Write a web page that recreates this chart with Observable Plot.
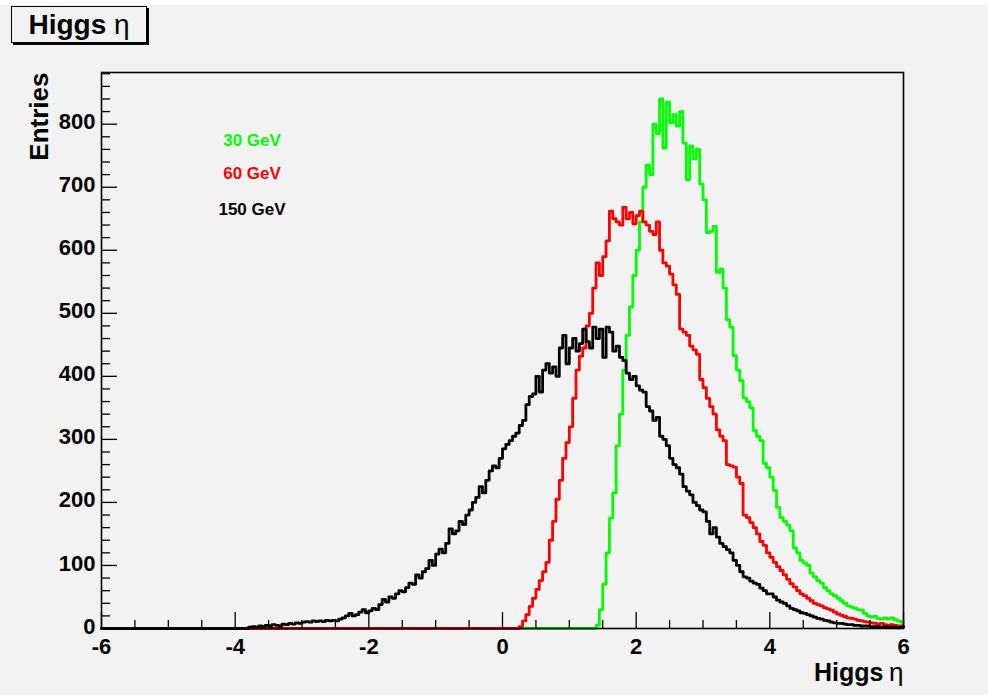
<!DOCTYPE html>
<html>
<head>
<meta charset="utf-8">
<script src="https://cdn.jsdelivr.net/npm/d3@7"></script>
<script src="https://cdn.jsdelivr.net/npm/@observablehq/plot@0.6"></script>
<style>
  html, body { margin: 0; padding: 0; background: #ffffff; }
  #wrap { position: relative; margin-top: 5px; width: 988px; height: 690px; background: #f2f2f2; overflow: hidden;
          font-family: "Liberation Sans", Arial, Helvetica, sans-serif; }
  #title { position: absolute; left: 11px; top: 1px; width: 136px; height: 37px; box-sizing: border-box;
           border: 1px solid #000; box-shadow: 2px 2px 0 #000; background: #f2f2f2;
           font-size: 28px; line-height: 35px; text-align: center; color: #000; white-space: nowrap; }
  #title b { font-weight: bold; }
  .leg { position: absolute; transform: translate(-50%, -50%); font-size: 17px; font-weight: bold; white-space: nowrap; }
  #chart { position: absolute; left: 0; top: 0; }
</style>
</head>
<body>
<div id="wrap">
  <div id="chart"></div>
  <div id="title"><b>Higgs</b> η</div>
</div>
<script>
// ---- data ----
const xMin = -6, xMax = 6, binWidth = 0.05;
const seriesNames = ["30 GeV", "60 GeV", "150 GeV"];
const seriesColors = ["#00ff00", "#ff0000", "#000000"];
const seriesStart = [1.40, 0.25, -3.80];   // eta of first non-empty bin

const green30 = [
  5, 30, 70, 120, 175, 215, 290, 340, 410, 465, 510, 560,
  600, 645, 700, 735, 720, 800, 785, 840, 762, 835, 802, 815, 797, 820, 770, 712, 765, 745, 760, 705,
  680, 628, 630, 638, 565, 570, 540, 490, 478, 433, 410, 393, 366, 360, 350, 314, 305, 298, 262, 255,
  240, 219, 192, 176, 170, 164, 155, 128, 120, 108, 104, 100, 88, 82, 76, 72, 65, 60, 55, 52,
  48, 44, 40, 36, 34, 32, 30, 29, 24, 20, 18, 19, 16, 15, 17, 15, 17, 14, 12, 10
];
const red60 = [
  3, 12, 22, 35, 48, 62, 76, 90, 105, 140,
  170, 205, 235, 270, 295, 320, 365, 410, 432, 445,
  480, 500, 540, 580, 560, 590, 615, 662, 650, 645,
  640, 668, 650, 660, 642, 655, 662, 645, 640, 630,
  625, 645, 600, 580, 575, 562, 545, 530, 475, 470,
  465, 448, 442, 435, 395, 382, 365, 352, 340, 315,
  305, 298, 260, 258, 256, 240, 230, 180, 176, 168,
  160, 150, 138, 132, 120, 113, 105, 98, 92, 85,
  78, 71, 66, 60, 55, 52, 48, 44, 40, 38,
  36, 33, 31, 29, 26, 23, 21, 19, 17, 16,
  15, 13, 12, 11, 10, 9, 8, 7, 8, 6,
  5, 6, 5, 4, 4
];
const black150 = [
  2, 3, 2, 4, 3, 5, 4, 6, 5, 4,
  7, 6, 8, 7, 9, 8, 10, 11, 10, 12,
  11, 12, 11, 13, 12, 13, 12, 15, 17, 20,
  24, 20, 22, 26, 30, 25, 28, 32, 30, 38,
  46, 42, 50, 48, 55, 60, 58, 65, 72, 70,
  85, 80, 90, 95, 108, 100, 118, 126, 120, 135,
  158, 150, 155, 170, 165, 180, 188, 200, 208, 225,
  215, 235, 250, 258, 255, 270, 285, 292, 298, 305,
  310, 322, 330, 355, 368, 372, 400, 375, 410, 420,
  405, 415, 400, 445, 465, 420, 445, 460, 440, 452,
  475, 455, 445, 478, 460, 475, 430, 478, 470, 440,
  448, 430, 425, 405, 395, 400, 385, 378, 375, 352,
  345, 330, 335, 305, 300, 290, 270, 260, 255, 245,
  225, 218, 212, 200, 195, 188, 185, 170, 150, 160,
  145, 135, 130, 125, 120, 108, 100, 90, 82, 80,
  75, 72, 70, 64, 60, 55, 55, 50, 45, 42,
  40, 36, 32, 30, 28, 25, 24, 22, 20, 18,
  16, 15, 13, 12, 10, 9, 8, 8, 7, 6,
  6, 5, 5, 4, 4, 4, 3, 3, 3, 2,
  3, 2, 2, 2, 1, 2
];
const seriesValues = [green30, red60, black150];

const xMajorTicks = [-6, -4, -2, 0, 2, 4, 6];
const xMinorTicks = [-5.5, -5, -4.5, -3.5, -3, -2.5, -1.5, -1, -0.5, 0.5, 1, 1.5, 2.5, 3, 3.5, 4.5, 5, 5.5];
const yMajorTicks = [0, 100, 200, 300, 400, 500, 600, 700, 800];
const yMinorTicks = [20, 40, 60, 80, 120, 140, 160, 180, 220, 240, 260, 280, 320, 340, 360, 380,
  420, 440, 460, 480, 520, 540, 560, 580, 620, 640, 660, 680, 720, 740, 760, 780, 820, 840, 860, 880];
const yMaxDomain = 882;

// ---- build step-histogram outlines ----
function histPoints(start, values, name) {
  const n = Math.round((xMax - xMin) / binWidth);
  const i0 = Math.round((start - xMin) / binWidth);
  const val = i => (i >= i0 && i - i0 < values.length) ? values[i - i0] : 0;
  const pts = [];
  for (let i = 0; i < n; i++) pts.push({x: xMin + i * binWidth, y: val(i), series: name});
  pts.push({x: xMax, y: val(n - 1), series: name});
  return pts;
}
const hists = seriesValues.map((v, k) => histPoints(seriesStart[k], v, seriesNames[k]));

const W = 988, H = 690;
const mLeft = 101, mRight = 85, mTop = 67, mBottom = 67;

const plot = Plot.plot({
  width: W, height: H,
  marginLeft: mLeft, marginRight: mRight, marginTop: mTop, marginBottom: mBottom,
  style: {background: "transparent", fontFamily: "'Liberation Sans', Arial, Helvetica, sans-serif",
          fontSize: "22px", fontWeight: "bold", color: "#000"},
  x: {domain: [xMin, xMax]},
  y: {domain: [0, yMaxDomain]},
  marks: [
    ...hists.map((h, k) => Plot.line(h, {x: "x", y: "y", curve: "step-after", stroke: seriesColors[k], strokeWidth: 2.8})),
    Plot.axisX({ticks: xMajorTicks, tickSize: -16, text: null, label: null, strokeWidth: 1.3}),
    Plot.axisX({ticks: xMinorTicks, tickSize: -8, text: null, label: null, strokeWidth: 1.3}),
    Plot.axisY({ticks: yMajorTicks, tickSize: -16, text: null, label: null, strokeWidth: 1.3}),
    Plot.axisY({ticks: yMinorTicks, tickSize: -9, text: null, label: null, strokeWidth: 1.3}),
    Plot.axisX({ticks: xMajorTicks, tickSize: 0, tickPadding: 10, label: null, tickFormat: d => `${d}`, fontWeight: "bold", fontSize: 22}),
    Plot.axisY({ticks: yMajorTicks, tickSize: 0, tickPadding: 6, label: null, tickFormat: d => `${d}`, fontWeight: "bold", fontSize: 22, dy: -2}),
    Plot.frame({stroke: "#000", strokeWidth: 1.6}),
    Plot.text(["Entries"], {text: d => d, frameAnchor: "top-left", rotate: -90, textAnchor: "end", lineAnchor: "middle",
      dx: -62, dy: 0, fontSize: 26, fontWeight: "bold"}),
    Plot.text(["η"], {text: d => d, frameAnchor: "bottom-right", textAnchor: "end", lineAnchor: "middle",
      dy: 44, fontSize: 26, fontWeight: "normal"}),
    Plot.text(["Higgs"], {text: d => d, frameAnchor: "bottom-right", textAnchor: "end", lineAnchor: "middle",
      dx: -20, dy: 44, fontSize: 25, fontWeight: "bold"})
  ]
});
document.getElementById("chart").appendChild(plot);

// legend labels (TLatex-style text in the pad)
const legendPos = [[252, 136], [252, 169], [252, 205]];
const wrap = document.getElementById("wrap");
seriesNames.forEach((name, k) => {
  const d = document.createElement("div");
  d.className = "leg";
  d.textContent = name;
  d.style.color = seriesColors[k];
  d.style.left = legendPos[k][0] + "px";
  d.style.top = legendPos[k][1] + "px";
  wrap.appendChild(d);
});
</script>
</body>
</html>
